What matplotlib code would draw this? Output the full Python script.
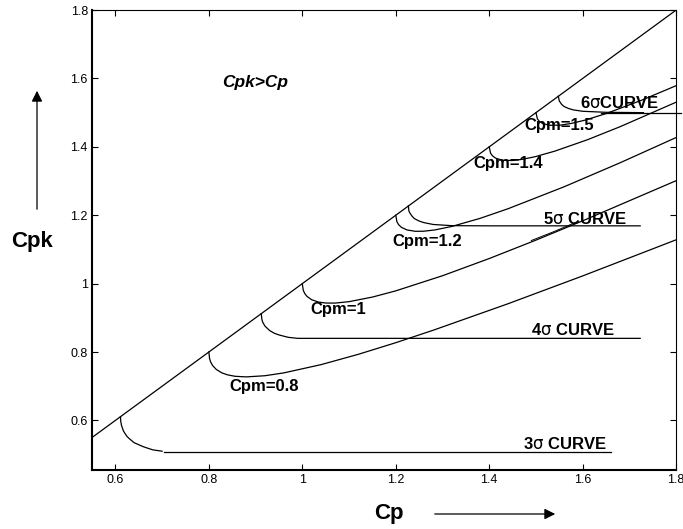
import matplotlib
matplotlib.use("Agg")
import matplotlib.pyplot as plt

plt.rcParams['font.family'] = ['Liberation Sans', 'DejaVu Sans']
plt.rcParams['mathtext.fontset'] = 'dejavusans'

# diagonal Cpk = Cp
diag_x = [0.55, 1.8]
diag_y = [0.55, 1.8]

# Cpm curves (Cp, Cpk)
cpm08_x = [0.8, 0.8016, 0.804, 0.808, 0.816, 0.828, 0.84, 0.856, 0.88, 0.92, 0.96, 1.04, 1.12, 1.2, 1.28, 1.44, 1.6, 1.8]
cpm08_y = [0.8, 0.7805, 0.7706, 0.7607, 0.749, 0.739, 0.7333, 0.7291, 0.7273, 0.7307, 0.7389, 0.7631, 0.7934, 0.8273, 0.8637, 0.9411, 1.0226, 1.1282]
cpm10_x = [1.0, 1.002, 1.005, 1.01, 1.02, 1.035, 1.05, 1.07, 1.1, 1.15, 1.2, 1.3, 1.4, 1.5, 1.6, 1.8]
cpm10_y = [1.0, 0.9809, 0.9716, 0.9627, 0.953, 0.946, 0.9433, 0.9431, 0.9473, 0.9607, 0.9789, 1.0231, 1.0734, 1.1273, 1.1837, 1.3011]
cpm12_x = [1.2, 1.2024, 1.206, 1.212, 1.224, 1.242, 1.26, 1.284, 1.32, 1.38, 1.44, 1.56, 1.68, 1.8]
cpm12_y = [1.2, 1.1813, 1.1726, 1.1647, 1.157, 1.153, 1.1533, 1.1571, 1.1673, 1.1907, 1.2189, 1.2831, 1.3534, 1.4273]
cpm14_x = [1.4, 1.4028, 1.407, 1.414, 1.428, 1.449, 1.47, 1.498, 1.54, 1.61, 1.68, 1.8]
cpm14_y = [1.4, 1.3817, 1.3736, 1.3667, 1.361, 1.36, 1.3633, 1.3711, 1.3873, 1.4207, 1.4589, 1.5306]
cpm15_x = [1.5, 1.503, 1.5075, 1.515, 1.53, 1.5525, 1.575, 1.605, 1.65, 1.725, 1.8]
cpm15_y = [1.5, 1.4819, 1.4741, 1.4677, 1.463, 1.4635, 1.4683, 1.4781, 1.4973, 1.5357, 1.5789]

# sigma-level curves
s3_x = [0.611, 0.6115, 0.613, 0.617, 0.62, 0.625, 0.63, 0.64, 0.66, 0.68, 0.70]
s3_y = [0.611, 0.598, 0.586, 0.570, 0.563, 0.553, 0.5465, 0.535, 0.523, 0.514, 0.510]
s3_line_x = [0.705, 1.66]
s3_line_y = [0.508, 0.508]
s4_x = [0.9122, 0.9135, 0.915, 0.92, 0.93, 0.94, 0.95, 0.97, 0.99, 1.723]
s4_y = [0.9122, 0.8957, 0.888, 0.876, 0.863, 0.855, 0.850, 0.843, 0.840, 0.840]
s5_x = [1.227, 1.228, 1.23, 1.235, 1.24, 1.25, 1.26, 1.28, 1.32, 1.40, 1.723]
s5_y = [1.227, 1.213, 1.207, 1.197, 1.19, 1.183, 1.1785, 1.173, 1.1695, 1.169, 1.169]
s6_x = [1.548, 1.549, 1.55, 1.555, 1.56, 1.57, 1.58, 1.60, 1.65, 1.73]
s6_y = [1.548, 1.540, 1.534, 1.524, 1.518, 1.512, 1.508, 1.504, 1.501, 1.500]
s6_line_x = [1.64, 1.81]
s6_line_y = [1.500, 1.500]

# short doubled stroke on the Cpm=1 curve
dbl_x = [1.49, 1.54, 1.59]
dbl_y = [1.126, 1.153, 1.182]

ticks = [0.6, 0.8, 1.0, 1.2, 1.4, 1.6, 1.8]
tick_labels = ['0.6', '0.8', '1', '1.2', '1.4', '1.6', '1.8']

fig = plt.figure(figsize=(6.83, 5.29), dpi=100)
ax = fig.add_axes([0.1347, 0.1115, 0.8553, 0.8695])

kw = dict(color='black', lw=0.9)
ax.plot(diag_x, diag_y, **kw)
for xs, ys in [(cpm08_x, cpm08_y), (cpm10_x, cpm10_y), (cpm12_x, cpm12_y),
               (cpm14_x, cpm14_y), (cpm15_x, cpm15_y),
               (s3_x, s3_y), (s3_line_x, s3_line_y), (s4_x, s4_y),
               (s5_x, s5_y), (s6_x, s6_y)]:
    ax.plot(xs, ys, **kw)
ax.plot(s6_line_x, s6_line_y, clip_on=False, **kw)
ax.plot(dbl_x, dbl_y, color='black', lw=0.7)

ax.set_xlim(0.55, 1.8)
ax.set_ylim(0.455, 1.8)
ax.set_xticks(ticks)
ax.set_xticklabels(tick_labels)
ax.set_yticks(ticks)
ax.set_yticklabels(tick_labels)
ax.tick_params(direction='in', length=4, width=0.8, labelsize=9, pad=3,
               top=True, right=True)
for side in ['left', 'bottom']:
    ax.spines[side].set_linewidth(1.5)
for side in ['top', 'right']:
    ax.spines[side].set_linewidth(0.8)

lab = dict(fontsize=12, fontweight='bold', ha='center', va='center')
ax.text(0.919, 0.6995, 'Cpm=0.8', **lab)
ax.text(1.077, 0.923, 'Cpm=1', **lab)
ax.text(1.268, 1.123, 'Cpm=1.2', **lab)
ax.text(1.441, 1.350, 'Cpm=1.4', **lab)
ax.text(1.550, 1.461, 'Cpm=1.5', **lab)
ax.text(1.680, 1.529, r'6$\mathrm{\sigma}$CURVE', **lab)
ax.text(1.605, 1.190, r'5$\mathrm{\sigma}$ CURVE', **lab)
ax.text(1.579, 0.864, r'4$\mathrm{\sigma}$ CURVE', **lab)
ax.text(1.563, 0.5315, r'3$\mathrm{\sigma}$ CURVE', **lab)
ax.text(0.8995, 1.587, 'Cpk>Cp', fontsize=12.5, fontweight='bold', style='italic',
        ha='center', va='center')

# axis titles with arrows, placed in figure pixels
fig.text(389 / 683, 1 - 513 / 529, 'Cp', fontsize=16, fontweight='bold',
         ha='center', va='center')
fig.text(32 / 683, 1 - 241 / 529, 'Cpk', fontsize=16, fontweight='bold',
         ha='center', va='center')
fig.patches.append(matplotlib.patches.FancyArrowPatch(
    (432 / 683, 1 - 514 / 529), (558 / 683, 1 - 514 / 529),
    transform=fig.transFigure, arrowstyle='-|>', mutation_scale=16,
    color='black', lw=0.9))
fig.patches.append(matplotlib.patches.FancyArrowPatch(
    (37 / 683, 1 - 212 / 529), (37 / 683, 1 - 88 / 529),
    transform=fig.transFigure, arrowstyle='-|>', mutation_scale=16,
    color='black', lw=0.9))

fig.savefig('out.png', dpi=100)
